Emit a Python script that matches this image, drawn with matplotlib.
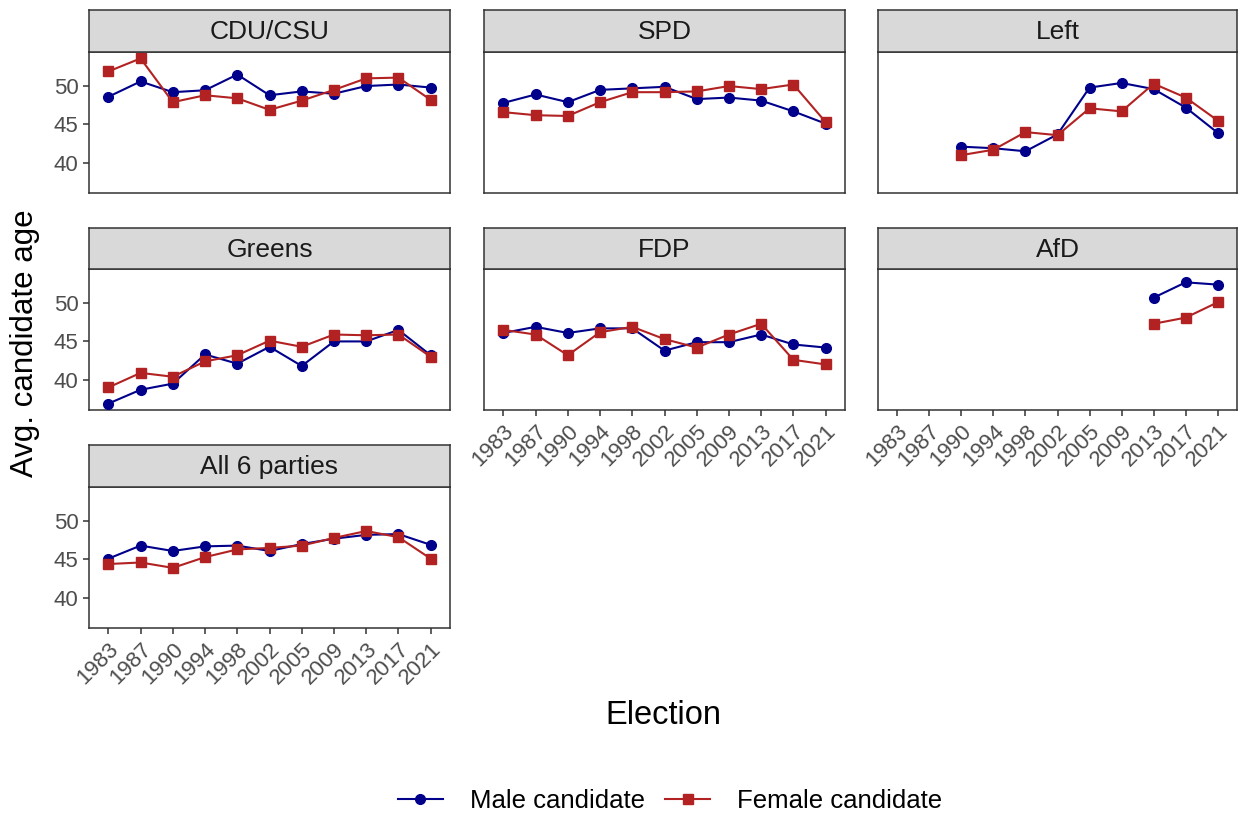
import numpy as np
import matplotlib
matplotlib.use('Agg')
import matplotlib.pyplot as plt
from matplotlib.lines import Line2D

plt.rcParams['font.family'] = ['Liberation Sans', 'DejaVu Sans']

# 数据
years = ['1983', '1987', '1990', '1994', '1998', '2002', '2005', '2009', '2013', '2017', '2021']
parties = ['CDU/CSU', 'SPD', 'Left', 'Greens', 'FDP', 'AfD', 'All 6 parties']
nan = np.nan

male_cdu = [48.6, 50.6, 49.2, 49.45, 51.5, 48.8, 49.3, 49.0, 50.0, 50.2, 49.8]
female_cdu = [51.9, 53.6, 47.9, 48.8, 48.4, 46.9, 48.1, 49.5, 51.0, 51.1, 48.2]
male_spd = [47.8, 48.9, 47.9, 49.5, 49.7, 49.9, 48.3, 48.5, 48.1, 46.7, 45.1]
female_spd = [46.6, 46.2, 46.1, 47.9, 49.2, 49.2, 49.3, 50.0, 49.6, 50.2, 45.3]
male_left = [nan, nan, 42.1, 41.9, 41.5, 43.7, 49.8, 50.4, 49.6, 47.2, 43.9]
female_left = [nan, nan, 41.0, 41.7, 44.0, 43.6, 47.1, 46.7, 50.3, 48.5, 45.5]
male_greens = [36.9, 38.7, 39.5, 43.3, 42.1, 44.3, 41.8, 45.0, 45.0, 46.5, 43.2]
female_greens = [39.0, 40.9, 40.4, 42.4, 43.2, 45.1, 44.3, 45.9, 45.8, 45.9, 43.0]
male_fdp = [46.1, 46.9, 46.1, 46.7, 46.7, 43.8, 44.9, 44.9, 45.9, 44.6, 44.2]
female_fdp = [46.5, 45.9, 43.2, 46.2, 46.9, 45.3, 44.2, 45.9, 47.3, 42.6, 42.0]
male_afd = [nan, nan, nan, nan, nan, nan, nan, nan, 50.7, 52.7, 52.4]
female_afd = [nan, nan, nan, nan, nan, nan, nan, nan, 47.3, 48.1, 50.1]
male_all = [45.1, 46.8, 46.1, 46.7, 46.8, 46.1, 47.0, 47.7, 48.2, 48.3, 46.9]
female_all = [44.4, 44.6, 43.9, 45.3, 46.3, 46.5, 46.8, 47.8, 48.7, 47.9, 45.1]

male = [male_cdu, male_spd, male_left, male_greens, male_fdp, male_afd, male_all]
female = [female_cdu, female_spd, female_left, female_greens, female_fdp, female_afd, female_all]

MALE_COL = '#00008B'
FEMALE_COL = '#B22222'
EDGE = '#333333'

W, H = 1238, 816
fig = plt.figure(figsize=(W / 100, H / 100), dpi=100)


def rect(x0, y0, x1, y1):
    # 像素坐标转为figure坐标
    return [x0 / W, (H - y1) / H, (x1 - x0) / W, (y1 - y0) / H]


cols = [(89, 450), (484, 845), (878, 1237)]
rows = [(10, 52, 193), (228, 269, 410), (445, 487, 628)]
x = np.arange(len(years))
all_vals = np.array(male + female, dtype=float)
lo, hi = np.nanmin(all_vals), np.nanmax(all_vals)
pad = (hi - lo) * 0.05

for k, party in enumerate(parties):
    r, c = divmod(k, 3)
    x0, x1 = cols[c]
    s0, p0, p1 = rows[r]

    ax = fig.add_axes(rect(x0, p0, x1, p1))
    ax.plot(x, male[k], color=MALE_COL, lw=1.5, marker='o', ms=7, zorder=3)
    ax.plot(x, female[k], color=FEMALE_COL, lw=1.5, marker='s', ms=6.5, zorder=3)
    ax.set_xlim(-0.6, len(years) - 0.4)
    ax.set_ylim(lo - pad, hi + pad)
    ax.set_yticks([40, 45, 50])
    ax.set_xticks(x)
    for sp in ax.spines.values():
        sp.set_color(EDGE)
        sp.set_linewidth(1.1)
    ax.tick_params(colors=EDGE, length=4, width=1.1, labelcolor='#4D4D4D', labelsize=16)
    if c == 0:
        ax.set_yticklabels(['40', '45', '50'])
    else:
        ax.tick_params(axis='y', left=False, labelleft=False)
    # 只在每列最下面的面板显示x轴
    bottom = (r == 2) or (r == 1 and c > 0)
    if bottom:
        ax.set_xticklabels(years, rotation=45, ha='right', va='top', rotation_mode='anchor')
    else:
        ax.tick_params(axis='x', bottom=False, labelbottom=False)

    sax = fig.add_axes(rect(x0, s0, x1, p0))
    sax.set_facecolor('#D9D9D9')
    sax.set_xticks([])
    sax.set_yticks([])
    for sp in sax.spines.values():
        sp.set_color(EDGE)
        sp.set_linewidth(1.1)
    sax.text(0.5, 0.47, party, ha='center', va='center', fontsize=19, color='#1A1A1A',
             transform=sax.transAxes)

fig.text(663 / W, 1 - 716 / H, 'Election', ha='center', va='center', fontsize=23.5)
fig.text(25 / W, 1 - 343 / H, 'Avg. candidate age', ha='center', va='center',
         fontsize=22.5, rotation=90)

handles = [
    Line2D([], [], color=MALE_COL, lw=1.5, marker='o', ms=7),
    Line2D([], [], color=FEMALE_COL, lw=1.5, marker='s', ms=6.5),
]
fig.legend(handles, ['Male candidate', 'Female candidate'], loc='center',
           bbox_to_anchor=(670 / W, 1 - 801 / H), ncol=2, frameon=False,
           fontsize=18.5, handlelength=1.75, columnspacing=0.8, handletextpad=1.05)

plt.savefig('out.png', dpi=100)
